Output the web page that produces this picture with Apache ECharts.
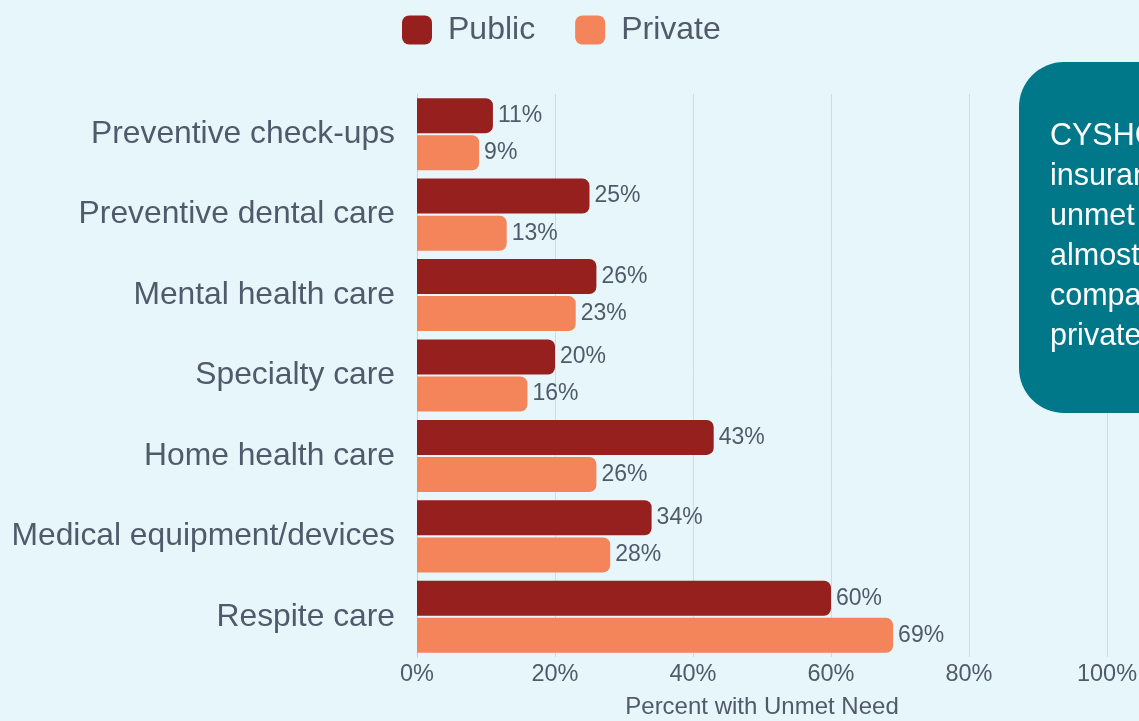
<!DOCTYPE html>
<html>
<head>
<meta charset="utf-8">
<script src="https://cdn.jsdelivr.net/npm/echarts@6/dist/echarts.min.js"></script>
<style>
html,body{margin:0;padding:0;background:#e6f6fa;}
#chart{width:1139px;height:721px;}
</style>
</head>
<body>
<div id="chart"></div>
<script>
const categories = ["Preventive check-ups","Preventive dental care","Mental health care","Specialty care","Home health care","Medical equipment/devices","Respite care"];
const publicValues = [11, 25, 26, 20, 43, 34, 60];
const privateValues = [9, 13, 23, 16, 26, 28, 69];
const xTicks = [0, 20, 40, 60, 80, 100];
const seriesNames = ["Public", "Private"];
const calloutLines = ["CYSHCN with public", "insurance had more", "unmet needs, with", "almost double the rate", "compared to those with", "private insurance."];

const textColor = '#4f5b6b';
const FONT = 'Liberation Sans, Arial, sans-serif';
const chart = echarts.init(document.getElementById('chart'));
const labelOpt = {show:true, position:'right', distance:5, fontSize:23, color:textColor, fontFamily:FONT, formatter: p => p.value + '%'};
chart.setOption({
  backgroundColor:'#e6f6fa',
  textStyle:{fontFamily:FONT},
  legend:{
    data: seriesNames,
    left:397, top:9,
    icon:'roundRect', itemWidth:30, itemHeight:29, itemGap:40,
    textStyle:{fontSize:32, color:textColor, padding:[0,0,0,11]}
  },
  grid:{left:417, right:32, top:94, bottom:64, containLabel:false, outerBoundsMode:'none'},
  xAxis:{
    type:'value', min:xTicks[0], max:xTicks[xTicks.length-1], interval:20,
    axisLabel:{fontSize:23.5, color:textColor, margin:6, formatter: v => v + '%'},
    axisLine:{show:false}, axisTick:{show:false},
    splitLine:{lineStyle:{color:'#cfdce0', width:1}},
    name:'Percent with Unmet Need', nameLocation:'middle', nameGap:38,
    nameTextStyle:{fontSize:24, color:textColor}
  },
  yAxis:{
    type:'category', data:categories, inverse:true,
    axisLabel:{fontSize:31.8, color:textColor, margin:22},
    axisLine:{show:true, lineStyle:{color:'#c4cfd3'}}, axisTick:{show:false},
    splitLine:{show:false}
  },
  series:[
    {name:seriesNames[0], type:'bar', data:publicValues, barWidth:35, barGap:'6%',
     itemStyle:{color:'#95201e', borderRadius:[0,7,7,0]}, label:labelOpt},
    {name:seriesNames[1], type:'bar', data:privateValues, barWidth:35, barGap:'6%',
     itemStyle:{color:'#f4845a', borderRadius:[0,7,7,0]}, label:labelOpt}
  ],
  graphic:[
    {type:'rect', left:1019, top:62, z:100,
     shape:{width:320, height:351, r:45}, style:{fill:'#00788a'}},
    {type:'text', left:1050, top:117, z:101,
     style:{text:calloutLines.join('\n'), fill:'#ffffff', fontSize:30.5, lineHeight:40, fontFamily:FONT}}
  ]
});
</script>
</body>
</html>
